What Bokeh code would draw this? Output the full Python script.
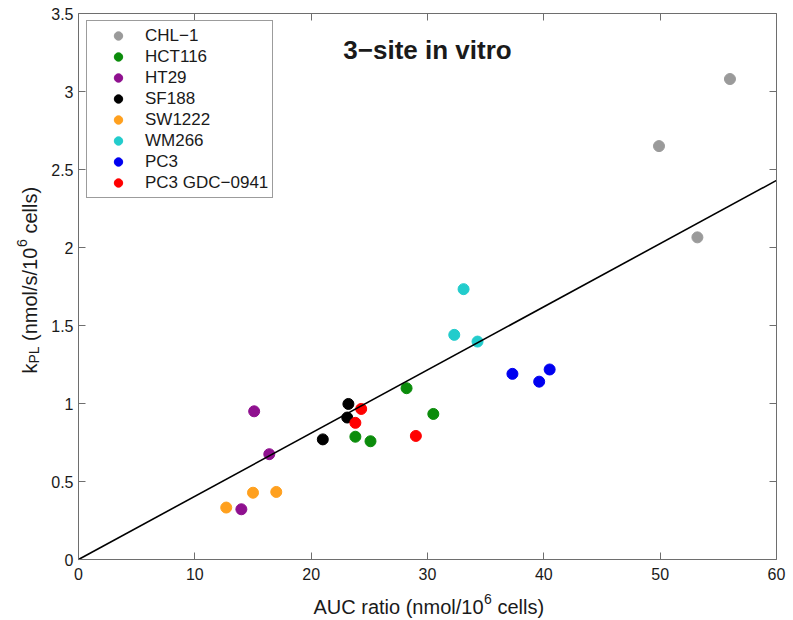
import math
from bokeh.plotting import figure
from bokeh.models import Range1d, LinearAxis, FixedTicker, Label, CustomJSTickFormatter
from bokeh.embed import file_html
from bokeh.resources import INLINE

# ---------------- data ----------------
groups = ["CHL−1", "HCT116", "HT29", "SF188", "SW1222", "WM266", "PC3", "PC3 GDC−0941"]
colors = ["#9a9a9a", "#0b8c0b", "#8f108f", "#000000", "#ffa01e", "#22cccc", "#0000f0", "#ff0000"]

chl1_x = [49.9, 53.2, 56.0]
chl1_y = [2.65, 2.065, 3.08]
hct116_x = [23.8, 25.1, 28.2, 30.5]
hct116_y = [0.787, 0.758, 1.098, 0.933]
ht29_x = [15.1, 16.4, 14.0]
ht29_y = [0.95, 0.675, 0.322]
sf188_x = [23.2, 23.1, 21.0]
sf188_y = [0.997, 0.91, 0.77]
sw1222_x = [12.7, 15.0, 17.0]
sw1222_y = [0.333, 0.428, 0.433]
wm266_x = [33.1, 32.3, 34.3]
wm266_y = [1.733, 1.44, 1.397]
pc3_x = [37.3, 39.6, 40.5]
pc3_y = [1.19, 1.14, 1.218]
pc3gdc_x = [24.3, 23.8, 29.0]
pc3gdc_y = [0.965, 0.876, 0.792]

fit_x = [0, 60]
fit_y = [0, 2.43]

x_min, x_max = 0, 60
y_min, y_max = 0, 3.5
x_ticks = [0, 10, 20, 30, 40, 50, 60]
x_tick_labels = ["0", "10", "20", "30", "40", "50", "60"]
y_ticks = [0, 0.5, 1, 1.5, 2, 2.5, 3, 3.5]
y_tick_labels = ["0", "0.5", "1", "1.5", "2", "2.5", "3", "3.5"]

series_x = [chl1_x, hct116_x, ht29_x, sf188_x, sw1222_x, wm266_x, pc3_x, pc3gdc_x]
series_y = [chl1_y, hct116_y, ht29_y, sf188_y, sw1222_y, wm266_y, pc3_y, pc3gdc_y]

title_text = "3−site in vitro"

# ---------------- layout (pixels) ----------------
CW, CH = 786, 620            # whole drawing area (frame spans it all)
AX_L, AX_R = 78, 776         # pixel position of the axes box
AX_T, AX_B = 13, 559
FONT = "Liberation Sans"
AX_COLOR = "#6e6e6e"
TXT_COLOR = "#1a1a1a"

# ranges extended so that the axes box sits at the pixel positions above
sx_per = (AX_R - AX_L) / (x_max - x_min)
sy_per = (AX_B - AX_T) / (y_max - y_min)
xr = Range1d(x_min - AX_L / sx_per, x_max + (CW - AX_R) / sx_per)
yr = Range1d(y_min - (CH - AX_B) / sy_per, y_max + AX_T / sy_per)

p = figure(frame_width=CW, frame_height=CH, min_border=0,
           x_range=xr, y_range=yr, x_axis_location=None, y_axis_location=None,
           output_backend="svg", toolbar_location=None)
p.xgrid.visible = False
p.ygrid.visible = False
p.outline_line_color = None
p.background_fill_color = "white"
p.border_fill_color = "white"

bottom_ax = LinearAxis(fixed_location=y_min, bounds=(x_min, x_max))
top_ax = LinearAxis(fixed_location=y_max, bounds=(x_min, x_max))
left_ax = LinearAxis(fixed_location=x_min, bounds=(y_min, y_max))
right_ax = LinearAxis(fixed_location=x_max, bounds=(y_min, y_max))
p.add_layout(bottom_ax, "below")
p.add_layout(top_ax, "above")
p.add_layout(left_ax, "left")
p.add_layout(right_ax, "right")

empty_fmt = CustomJSTickFormatter(code="return '';")
for ax, ticks, labels in [(bottom_ax, x_ticks, x_tick_labels), (top_ax, x_ticks, None),
                          (left_ax, y_ticks, y_tick_labels), (right_ax, y_ticks, None)]:
    ax.ticker = FixedTicker(ticks=ticks)
    ax.axis_line_color = AX_COLOR
    ax.major_tick_line_color = AX_COLOR
    ax.major_tick_in = 7
    ax.major_tick_out = 0
    ax.minor_tick_line_color = None
    ax.major_label_text_font = FONT
    ax.major_label_text_font_size = "16px"
    ax.major_label_text_color = TXT_COLOR
    if labels is None:
        ax.formatter = empty_fmt
        ax.major_label_standoff = 0
    else:
        ax.major_label_overrides = {t: l for t, l in zip(ticks, labels)}
bottom_ax.major_label_standoff = 8
left_ax.major_label_standoff = 5

# ---------------- glyphs ----------------
for name, c, xs, ys in zip(groups, colors, series_x, series_y):
    p.scatter(xs, ys, size=11, marker="circle", fill_color=c, line_color=c, legend_label=name)

p.line(fit_x, fit_y, line_color="black", line_width=1.6)

# ---------------- legend ----------------
LG_PAD, LG_ROW = 4, 21
lg_h = 2 * LG_PAD + LG_ROW * len(groups)
lg = p.legend[0]
lg.location = (86, CH - (22 + lg_h))
lg.padding = LG_PAD
lg.spacing = 0
lg.glyph_height = LG_ROW
lg.label_height = LG_ROW
lg.glyph_width = 54
lg.label_standoff = 0
lg.label_text_font = FONT
lg.label_text_font_size = "17px"
lg.label_text_color = TXT_COLOR
lg.border_line_color = "#3a3a3a"
lg.border_line_width = 1
lg.background_fill_alpha = 1


# ---------------- texts (page pixel -> frame screen units) ----------------
def add_text(px, py, text, size, align="left", baseline="alphabetic", angle=0.0, bold=False):
    p.add_layout(Label(x=px, y=CH - py, x_units="screen", y_units="screen", text=text,
                       text_font=FONT, text_font_size=size,
                       text_align=align, text_baseline=baseline, angle=angle,
                       text_color=TXT_COLOR, text_font_style="bold" if bold else "normal"))


# title inside plot
add_text(427, 49, title_text, "26px", align="center", baseline="middle", bold=True)

# x axis label: AUC ratio (nmol/10^6 cells)
XB = 606.5
add_text(483, XB, "AUC ratio (nmol/10", "20px", align="right")
add_text(483.5, XB - 8, "6", "14px", align="left")
add_text(497, XB, "cells)", "20px", align="left")

# y axis label: k_PL (nmol/s/10^6 cells), rotated
ang = math.pi / 2
YB = 29
add_text(YB, 373, "k", "20px", angle=ang)
add_text(YB + 4.5, 363, "PL", "14px", angle=ang)
add_text(YB, 340.5, "(nmol/s/10", "20px", angle=ang)
add_text(YB - 8, 246.5, "6", "14px", angle=ang)
add_text(YB, 233, "cells)", "20px", angle=ang)

open("out.html", "w").write(file_html(p, INLINE))
